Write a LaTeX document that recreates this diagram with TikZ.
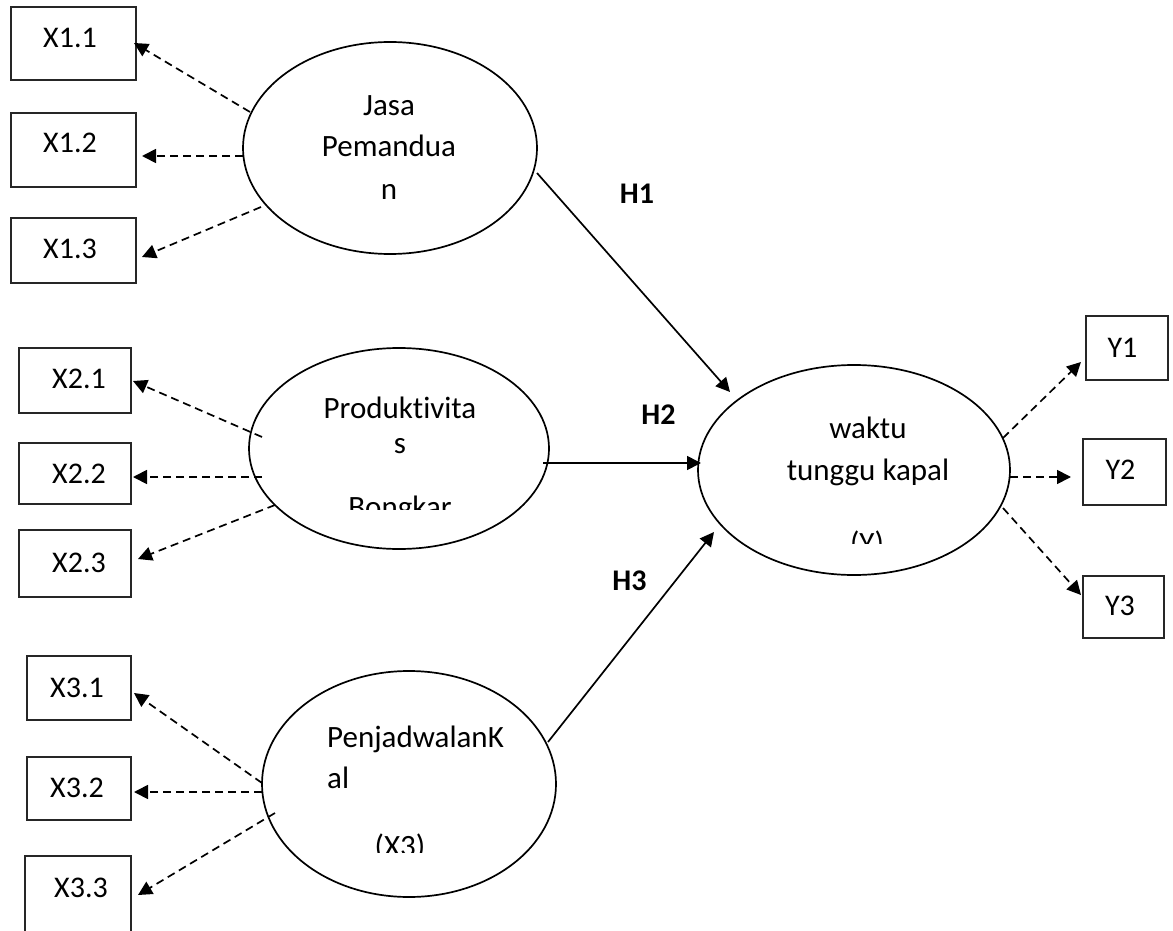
\documentclass[tikz,border=0pt]{standalone}
\usepackage{fontspec}
\setmainfont{Carlito}[Ligatures={NoCommon}]
\usetikzlibrary{arrows.meta,shapes.geometric}
\tikzset{
  latent/.style={draw, ellipse, line width=1.7pt, inner sep=0pt},
  indic/.style={draw=black!85, rectangle, line width=2pt, inner sep=0pt},
  boxtxt/.style={anchor=base, inner sep=0pt, font=\fontsize{30}{36}\selectfont},
  eltxt/.style={anchor=base, inner sep=0pt, font=\fontsize{31}{37}\selectfont},
  hyp/.style={anchor=base, inner sep=0pt, font=\fontsize{30}{36}\selectfont\bfseries},
  loading/.style={dash pattern=on 8pt off 5pt, line width=1.7pt, -{Triangle[length=14pt,width=14pt]}},
  effect/.style={line width=1.7pt, -{Triangle[length=14pt,width=14pt]}}
}
\begin{document}
\begin{tikzpicture}[x=1pt,y=-1pt]
\useasboundingbox (0,0) rectangle (1173,931);
\clip (0,0) rectangle (1173,931);

% latent variables
\node[latent, minimum width=294pt, minimum height=212pt] (jasa) at (390,148) {};
\node[latent, minimum width=300pt, minimum height=201pt] (prod) at (399,448.5) {};
\node[latent, minimum width=294pt, minimum height=226pt] (penj) at (409,784) {};
\node[latent, minimum width=312pt, minimum height=210pt] (wkt) at (854,470) {};

% latent texts
\node[eltxt] (jasa1) at (389,116) {Jasa};
\node[eltxt] (jasa2) at (389,157) {Pemandua};
\node[eltxt] (jasa3) at (389,199) {n};
\node[eltxt] (prod1) at (400,418) {Produkt\kern0pt ivita};
\node[eltxt] (prod2) at (400,453) {s};
\begin{scope}
  \clip (250,300) rectangle (550,509);
  \node[eltxt] (prod3) at (400,517) {Bongkar};
\end{scope}
\node[eltxt, anchor=base west] (penj1) at (327,747) {PenjadwalanK};
\node[eltxt, anchor=base west] (penj2) at (327,788) {al};
\begin{scope}
  \clip (260,700) rectangle (560,852);
  \node[eltxt] (penj3) at (400,856) {(X3)};
\end{scope}
\node[eltxt] (wkt1) at (868,438) {waktu};
\node[eltxt] (wkt2) at (868,480) {tunggu kapal};
\begin{scope}
  \clip (700,400) rectangle (1010,543);
  \node[eltxt] (wkt3) at (867,553) {(Y)};
\end{scope}

% indicator boxes
\node[indic, minimum width=125pt, minimum height=73pt] (x11) at (73.5,43.5) {};
\node[indic, minimum width=125pt, minimum height=74pt] (x12) at (73.5,150) {};
\node[indic, minimum width=125pt, minimum height=65pt] (x13) at (73.5,250.5) {};
\node[indic, minimum width=112pt, minimum height=65pt] (x21) at (75,380.5) {};
\node[indic, minimum width=112pt, minimum height=61pt] (x22) at (75,473.5) {};
\node[indic, minimum width=112pt, minimum height=67pt] (x23) at (75,563.5) {};
\node[indic, minimum width=104pt, minimum height=64pt] (x31) at (79,688) {};
\node[indic, minimum width=104pt, minimum height=63pt] (x32) at (79,788.5) {};
\node[indic, minimum width=106pt, minimum height=110pt] (x33) at (78,911) {};
\node[indic, minimum width=82pt, minimum height=64pt] (y1) at (1127,348) {};
\node[indic, minimum width=83pt, minimum height=66pt] (y2) at (1124.5,472) {};
\node[indic, minimum width=81pt, minimum height=62pt] (y3) at (1123.5,607) {};

\node[boxtxt] (x11t) at (70,48) {X1.1};
\node[boxtxt] (x12t) at (70,153) {X1.2};
\node[boxtxt] (x13t) at (70,258) {X1.3};
\node[boxtxt] (x21t) at (79,388) {X2.1};
\node[boxtxt] (x22t) at (79,483) {X2.2};
\node[boxtxt] (x23t) at (79,572) {X2.3};
\node[boxtxt] (x31t) at (77,697) {X3.1};
\node[boxtxt] (x32t) at (77,797) {X3.2};
\node[boxtxt] (x33t) at (81,897) {X3.3};
\node[boxtxt] (y1t) at (1122.5,357) {Y1};
\node[boxtxt] (y2t) at (1120.5,479) {Y2};
\node[boxtxt] (y3t) at (1120,615) {Y3};

% hypothesis labels
\node[hyp] (h1) at (637,203) {H1};
\node[hyp] (h2) at (658.5,424) {H2};
\node[hyp] (h3) at (629.5,590) {H3};

% loadings
\draw[loading] ([shift={(-140,-36)}]jasa.center) -- ([shift={(-3,-0.5)}]x11.east);
\draw[loading] ([shift={(-147,8)}]jasa.center) -- ([shift={(5,6)}]x12.east);
\draw[loading] ([shift={(-129,59)}]jasa.center) -- ([shift={(5,6.5)}]x13.east);
\draw[loading] ([shift={(-137,-11.5)}]prod.center) -- ([shift={(1,0.5)}]x21.east);
\draw[loading] ([shift={(-137,28.5)}]prod.center) -- ([shift={(1,3.5)}]x22.east);
\draw[loading] ([shift={(-124,56.5)}]prod.center) -- ([shift={(6,-4.5)}]x23.east);
\draw[loading] ([shift={(-147,-1)}]penj.center) -- ([shift={(2,5)}]x31.east);
\draw[loading] ([shift={(-147,8)}]penj.center) -- ([shift={(2,3.5)}]x32.east);
\draw[loading] ([shift={(-134,29)}]penj.center) -- ([shift={(6,-16)}]x33.east);
\draw[loading] ([shift={(149,-32)}]wkt.center) -- ([shift={(-4,14)}]y1.west);
\draw[loading] ([shift={(156,7)}]wkt.center) -- ([shift={(-11,5)}]y2.west);
\draw[loading] ([shift={(149,38)}]wkt.center) -- ([shift={(-1,-12)}]y3.west);

% structural paths
\draw[effect] ([shift={(147,25)}]jasa.center) -- ([shift={(-124,-78)}]wkt.center);
\draw[effect] ([shift={(144,14.5)}]prod.center) -- ([shift={(-153,-7)}]wkt.center);
\draw[effect] ([shift={(139,-42)}]penj.center) -- ([shift={(-140,62)}]wkt.center);
\end{tikzpicture}
\end{document}
